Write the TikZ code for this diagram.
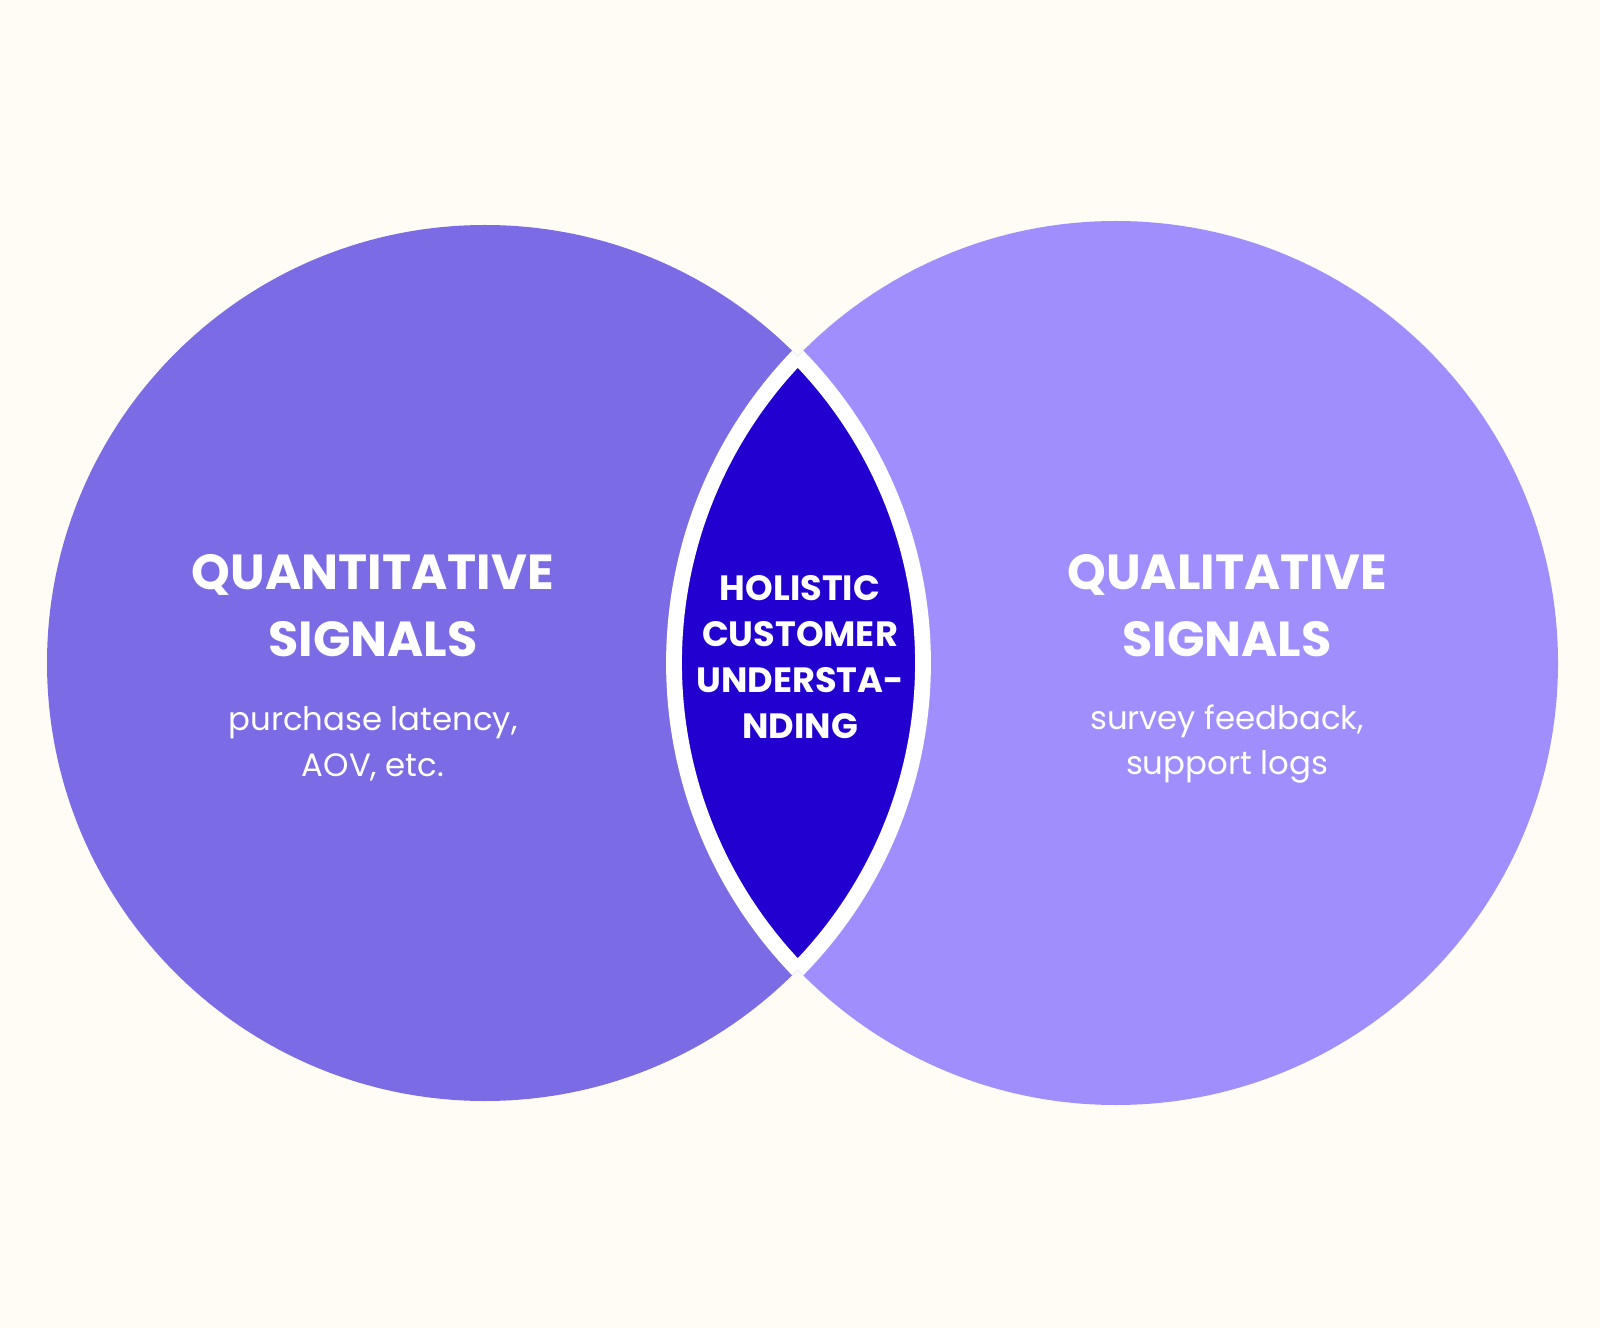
\documentclass[tikz,border=0pt]{standalone}
\usepackage{fontspec}
\setmainfont{Poppins}
\definecolor{bgcol}{HTML}{FFFCF6}
\definecolor{quantcol}{HTML}{7B6BE4}
\definecolor{qualcol}{HTML}{A08EFD}
\definecolor{holcol}{HTML}{2200D0}
\tikzset{
  headtext/.style={text=white,align=center,font=\fontsize{14}{19}\selectfont\bfseries},
  subtext/.style={text=white,align=center,font=\fontsize{9.2}{13}\selectfont},
  lenstext/.style={text=white,align=center,font=\fontsize{10}{13}\selectfont\bfseries}
}
\begin{document}
\begin{tikzpicture}[x=0.01cm,y=-0.01cm]
\fill[bgcol] (0,0) rectangle (1600,1328);
\useasboundingbox (0,0) rectangle (1600,1328);
% the two circles
\fill[quantcol] (485,663) circle (438);
\fill[qualcol] (1116,663) circle (442);
% overlap
\begin{scope}
\clip (485,663) circle (438);
\fill[holcol] (1116,663) circle (442);
\draw[white,line width=4.5pt] (1116,663) circle (442);
\end{scope}
\begin{scope}
\clip (1116,663) circle (442);
\draw[white,line width=4.5pt] (485,663) circle (438);
\end{scope}
% labels
\node[headtext] (quant) at (373,606) {QUANTITATIVE\\SIGNALS};
\node[subtext] (quantsub) at (373,744) {purchase latency,\\AOV, etc.};
\node[headtext] (qual) at (1227,606) {QUALITATIVE\\SIGNALS};
\node[subtext] (qualsub) at (1227,744) {survey feedback,\\support logs};
\node[lenstext] (hol) at (800,657) {HOLISTIC\\CUSTOMER\\UNDERSTA-\\NDING};
\end{tikzpicture}
\end{document}
